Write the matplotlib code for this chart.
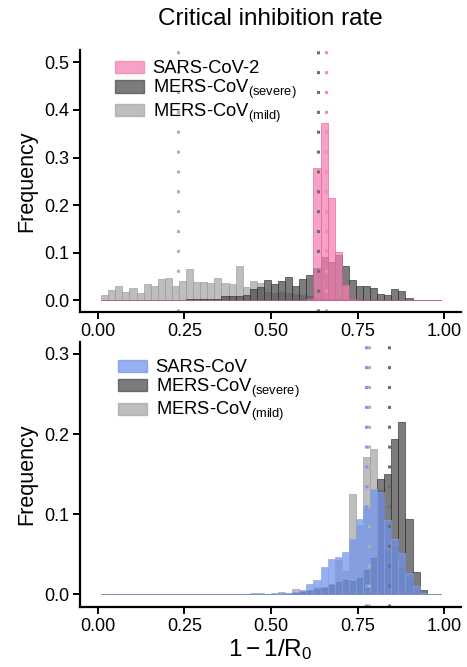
import numpy as np
import matplotlib
matplotlib.use("Agg")
import matplotlib.pyplot as plt
from matplotlib.patches import Patch

plt.rcParams['font.family'] = ['Liberation Sans', 'DejaVu Sans']
plt.rcParams['mathtext.fontset'] = 'custom'
plt.rcParams['mathtext.rm'] = 'Liberation Sans'
plt.rcParams['mathtext.it'] = 'Liberation Sans:italic'

# bin edges of the histograms (48 bins)
edges = np.linspace(0.01, 0.99, 49)

# --- top panel: SARS-CoV-2 vs MERS-CoV ---
top_mild = [0.012, 0.022, 0.031, 0.018, 0.027, 0.016, 0.035, 0.031, 0.046, 0.048,
            0.031, 0.041, 0.067, 0.039, 0.039, 0.037, 0.047, 0.036, 0.035, 0.072,
            0.028, 0.041, 0.037, 0.018, 0.016, 0.017, 0.015, 0.014, 0.012, 0.010,
            0.008, 0.006, 0.004, 0.003, 0.002, 0, 0, 0, 0, 0,
            0, 0, 0, 0, 0, 0, 0, 0]
top_severe = [0, 0, 0, 0, 0, 0, 0.001, 0.001, 0.001, 0.001,
              0.001, 0.001, 0.003, 0.003, 0.003, 0.003, 0.003, 0.009, 0.009, 0.009,
              0.012, 0.025, 0.028, 0.043, 0.035, 0.041, 0.049, 0.030, 0.045, 0.054,
              0.068, 0.092, 0.081, 0.095, 0.072, 0.043, 0.030, 0.030, 0.026, 0.013,
              0.011, 0.024, 0.020, 0.005, 0, 0, 0, 0]
top_sars2 = [0] * 28 + [0.001, 0.003, 0.278, 0.373, 0.215, 0.101, 0.032, 0.003, 0.001] + [0] * 11
top_means = {'mild': 0.231, 'severe': 0.635, 'sars2': 0.659}

# --- bottom panel: SARS-CoV vs MERS-CoV ---
bot_sars = [0] * 21 + [0.001, 0.001, 0.0005, 0.001, 0.001, 0.0015, 0.003, 0.005, 0.013, 0.018,
                       0.034, 0.044, 0.047, 0.053, 0.069, 0.094, 0.110, 0.132, 0.128, 0.093,
                       0.069, 0.052, 0.027, 0.010, 0.002] + [0] * 2
bot_severe = [0] * 27 + [0.002, 0.003, 0.004, 0.006, 0.008, 0.012, 0.015, 0.018, 0.017, 0.020,
                         0.030, 0.045, 0.144, 0.150, 0.194, 0.215, 0.094, 0.028, 0.005] + [0] * 2
bot_mild = [0] * 25 + [0.003, 0.001, 0.007, 0.004, 0.005, 0.009, 0.009, 0.013, 0.043, 0.029,
                       0.125, 0.086, 0.172, 0.182, 0.130, 0.055, 0.060, 0.033, 0.020, 0.005] + [0] * 3
bot_means = {'sars': 0.774, 'mild': 0.782, 'severe': 0.839}

pink, dark, light, blue = '#F37FB1', '#4A4A4A', '#A5A5A5', '#6F92EC'

fig = plt.figure(figsize=(4.67, 6.67), dpi=100)
ax1 = fig.add_axes([0.1713, 0.5327, 0.8158, 0.3924])
ax2 = fig.add_axes([0.1713, 0.0904, 0.8158, 0.3969])
w = edges[1] - edges[0]


def hist(ax, vals, fc, ec, alpha=0.72):
    ax.bar(edges[:-1], vals, width=w, align='edge', color=fc, alpha=alpha,
           edgecolor=ec, linewidth=0.6)


def vline(ax, x, c):
    ax.axvline(x, color=c, linewidth=2.2, linestyle=(0, (1, 5.5)))


hist(ax1, top_mild, light, '#9a9a9a')
hist(ax1, top_severe, dark, '#2e2e2e')
hist(ax1, top_sars2, pink, '#E8609A')
vline(ax1, top_means['mild'], '#b0b0b0')
vline(ax1, top_means['severe'], '#6e6e6e')
vline(ax1, top_means['sars2'], '#F48AB7')

hist(ax2, bot_mild, light, '#9a9a9a')
hist(ax2, bot_severe, dark, '#2e2e2e')
hist(ax2, bot_sars, blue, '#8CA4E0')
vline(ax2, bot_means['mild'], '#b0b0b0')
vline(ax2, bot_means['sars'], '#7E9BEA')
vline(ax2, bot_means['severe'], '#6e6e6e')

ax1.set_ylim(-0.0235, 0.526)
ax2.set_ylim(-0.0155, 0.315)
ax1.set_yticks([0.0, 0.1, 0.2, 0.3, 0.4, 0.5])
ax2.set_yticks([0.0, 0.1, 0.2, 0.3])

for ax in (ax1, ax2):
    ax.set_xlim(-0.051, 1.048)
    ax.set_xticks([0, 0.25, 0.5, 0.75, 1.0])
    ax.set_xticklabels(['0.00', '0.25', '0.50', '0.75', '1.00'])
    ax.set_yticklabels([f'{t:.1f}' for t in ax.get_yticks()])
    for s in ('top', 'right'):
        ax.spines[s].set_visible(False)
    for s in ('left', 'bottom'):
        ax.spines[s].set_linewidth(1.6)
    ax.tick_params(width=1.4, length=5, labelsize=13, pad=3)
    ax.set_ylabel('Frequency', fontsize=15.5, labelpad=5)

sub = lambda s: 'MERS-CoV$_{\\mathregular{(' + s + ')}}$'
leg_kw = dict(loc='upper left', frameon=False, fontsize=13.2, borderpad=0, borderaxespad=0,
              handlelength=1.6, handleheight=0.65, labelspacing=0.02, handletextpad=0.45)
h1 = [Patch(color=pink, alpha=0.72), Patch(color=dark, alpha=0.72), Patch(color=light, alpha=0.72)]
ax1.legend(h1, ['SARS-CoV-2', sub('severe'), sub('mild')], bbox_to_anchor=(0.092, 0.96), **leg_kw)
h2 = [Patch(color=blue, alpha=0.72), Patch(color=dark, alpha=0.72), Patch(color=light, alpha=0.72)]
ax2.legend(h2, ['SARS-CoV', sub('severe'), sub('mild')], bbox_to_anchor=(0.1, 0.935), **leg_kw)

ax2.set_xlabel(r'$1-1/\mathrm{R}_0$', fontsize=17.5, labelpad=2)
fig.text(0.578, 0.972, 'Critical inhibition rate', ha='center', va='center', fontsize=17.5)

fig.savefig('out.png', dpi=100)
